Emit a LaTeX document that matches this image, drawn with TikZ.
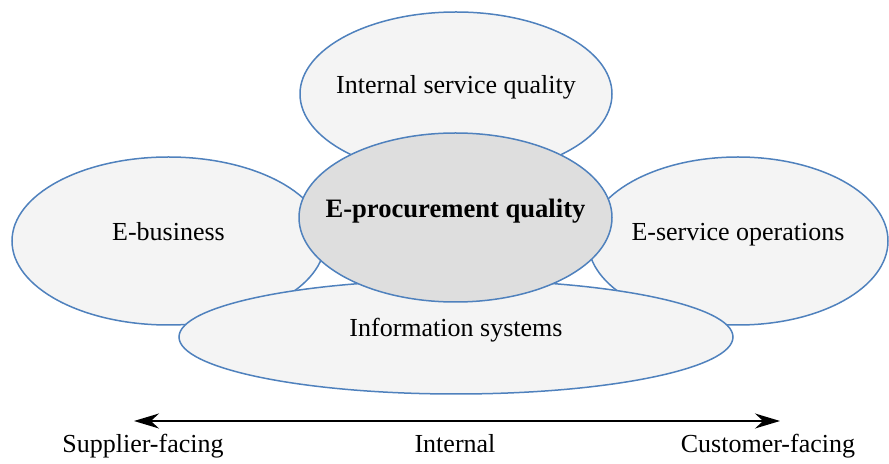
\documentclass[tikz,border=0pt]{standalone}
\usepackage{fontspec}
\setmainfont{Liberation Serif}
\usepackage{tikz}
\usetikzlibrary{shapes.geometric}
\usetikzlibrary{arrows.meta}

\definecolor{areablue}{RGB}{79,129,189}
\definecolor{areagray}{RGB}{244,244,244}
\definecolor{coregray}{RGB}{222,222,222}

\begin{document}
\begin{tikzpicture}[x=0.5pt,y=-0.5pt,
        area/.style={ellipse, draw=areablue, line width=0.75pt, fill=areagray, inner sep=0pt},
        core/.style={area, fill=coregray},
        areatext/.style={inner sep=0pt, text height=6pt, text depth=6pt, font=\fontsize{13}{15}\selectfont},
        coretext/.style={areatext, font=\fontsize{13.3}{15}\selectfont\bfseries},
        side/.style={font=\fontsize{13}{15}\selectfont, anchor=base, inner sep=0pt},
    ]
    \useasboundingbox (0,0) rectangle (889,464);
    % outer areas
    \node[area, minimum width=156pt, minimum height=82pt,
        label={[areatext]center:Internal service quality}] (service) at (456,94) {};
    \node[area, minimum width=156.5pt, minimum height=84pt,
        label={[areatext]center:E-business}] (ebiz) at (168.5,241) {};
    \node[area, minimum width=150pt, minimum height=84pt,
        label={[areatext]center:E-service operations}] (eops) at (738,241) {};
    \node[area, minimum width=277pt, minimum height=57pt,
        label={[areatext]center:Information systems}] (infosys) at (456,337) {};
    % centre
    \node[core, minimum width=156.5pt, minimum height=84.5pt,
        label={[coretext]center:E-procurement quality}] (eproc) at (455.5,217.5) {};
    % axis
    \node[side] (supplier) at (143,453) {Supplier-facing};
    \node[side] (internal) at (455,453) {Internal};
    \node[side] (customer) at (768,453) {Customer-facing};
    \coordinate (axisL) at (134,421);
    \coordinate (axisR) at (780,421);
    \draw[line width=0.85pt, {Stealth[length=12.5pt,width=7.5pt]}-{Stealth[length=12.5pt,width=7.5pt]}] (axisL) -- (axisR);
\end{tikzpicture}
\end{document}
